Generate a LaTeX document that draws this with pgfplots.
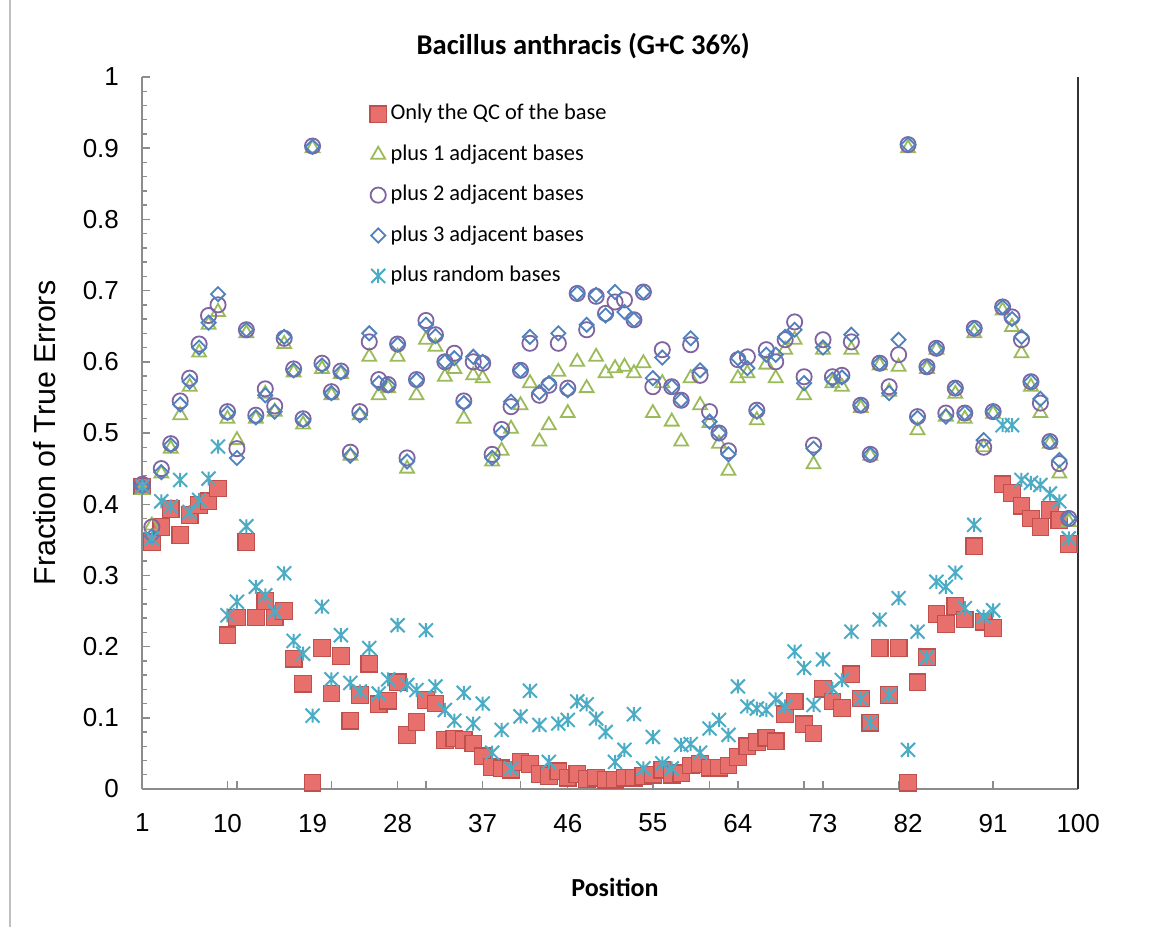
\documentclass[border=0pt]{standalone}
\usepackage{fontspec}
\setmainfont{Carlito}
\newfontfamily\arialf{Liberation Sans}
\usepackage{pgfplots}
\pgfplotsset{compat=1.18}
\usepackage{pgfplotstable}

\definecolor{redfill}{HTML}{E8706C}
\definecolor{redline}{HTML}{C0504D}
\definecolor{xlgreen}{HTML}{9BBB59}
\definecolor{xlpurple}{HTML}{8064A2}
\definecolor{xlblue}{HTML}{4F81BD}
\definecolor{xlcyan}{HTML}{4BACC6}
\definecolor{axgray}{HTML}{8C8C8C}

\pgfdeclareplotmark{xstar}{%
 \pgfpathmoveto{\pgfqpoint{0pt}{\pgfplotmarksize}}%
 \pgfpathlineto{\pgfqpoint{0pt}{-\pgfplotmarksize}}%
 \pgfpathmoveto{\pgfqpoint{\pgfplotmarksize}{\pgfplotmarksize}}%
 \pgfpathlineto{\pgfqpoint{-\pgfplotmarksize}{-\pgfplotmarksize}}%
 \pgfpathmoveto{\pgfqpoint{-\pgfplotmarksize}{\pgfplotmarksize}}%
 \pgfpathlineto{\pgfqpoint{\pgfplotmarksize}{-\pgfplotmarksize}}%
 \pgfusepathqstroke}

\pgfplotstableread{
x q p1 p2 p3 pr
1 0.425 0.420 0.428 0.425 0.425
2 0.347 0.370 0.368 0.355 0.352
3 0.368 0.443 0.450 0.445 0.404
4 0.393 0.478 0.485 0.483 0.397
5 0.357 0.525 0.545 0.540 0.434
6 0.385 0.565 0.577 0.572 0.389
7 0.399 0.613 0.625 0.620 0.406
8 0.404 0.652 0.665 0.655 0.436
9 0.422 0.670 0.680 0.695 0.481
10 0.216 0.520 0.530 0.528 0.244
11 0.241 0.490 0.478 0.465 0.263
12 0.347 0.640 0.645 0.645 0.369
13 0.241 0.520 0.525 0.522 0.284
14 0.264 0.555 0.562 0.553 0.272
15 0.241 0.530 0.538 0.530 0.249
16 0.250 0.625 0.633 0.635 0.303
17 0.183 0.585 0.590 0.588 0.208
18 0.148 0.512 0.520 0.518 0.190
19 0.009 0.900 0.903 0.902 0.103
20 0.198 0.590 0.598 0.595 0.256
21 0.134 0.553 0.558 0.556 0.154
22 0.187 0.583 0.587 0.585 0.216
23 0.096 0.468 0.473 0.468 0.149
24 0.132 0.525 0.530 0.525 0.137
25 0.176 0.607 0.628 0.640 0.198
26 0.119 0.553 0.575 0.570 0.134
27 0.124 0.563 0.568 0.567 0.154
28 0.150 0.607 0.625 0.624 0.230
29 0.076 0.450 0.465 0.460 0.146
30 0.094 0.553 0.575 0.574 0.139
31 0.125 0.631 0.658 0.652 0.223
32 0.120 0.621 0.638 0.636 0.144
33 0.069 0.579 0.600 0.600 0.111
34 0.071 0.590 0.612 0.605 0.096
35 0.069 0.520 0.545 0.542 0.135
36 0.064 0.581 0.600 0.607 0.092
37 0.046 0.577 0.598 0.600 0.120
38 0.031 0.460 0.470 0.465 0.051
39 0.029 0.475 0.505 0.500 0.083
40 0.027 0.506 0.537 0.544 0.029
41 0.038 0.539 0.588 0.588 0.102
42 0.035 0.570 0.626 0.635 0.138
43 0.021 0.488 0.553 0.557 0.090
44 0.018 0.511 0.567 0.570 0.038
45 0.025 0.586 0.626 0.640 0.092
46 0.016 0.528 0.563 0.560 0.097
47 0.021 0.600 0.696 0.696 0.123
48 0.014 0.563 0.645 0.652 0.119
49 0.016 0.607 0.692 0.694 0.099
50 0.013 0.584 0.668 0.665 0.080
51 0.013 0.591 0.684 0.698 0.038
52 0.016 0.593 0.687 0.670 0.055
53 0.016 0.584 0.659 0.659 0.105
54 0.018 0.598 0.698 0.698 0.029
55 0.020 0.528 0.565 0.577 0.073
56 0.027 0.570 0.617 0.606 0.036
57 0.020 0.516 0.565 0.565 0.029
58 0.022 0.488 0.546 0.546 0.062
59 0.033 0.577 0.624 0.633 0.063
60 0.035 0.539 0.581 0.588 0.051
61 0.030 0.514 0.530 0.516 0.085
62 0.030 0.485 0.500 0.500 0.097
63 0.033 0.447 0.475 0.470 0.076
64 0.045 0.577 0.603 0.605 0.144
65 0.060 0.584 0.607 0.591 0.116
66 0.066 0.518 0.532 0.530 0.113
67 0.072 0.596 0.617 0.610 0.111
68 0.067 0.577 0.600 0.610 0.126
69 0.105 0.617 0.631 0.635 0.116
70 0.123 0.631 0.656 0.645 0.193
71 0.091 0.553 0.579 0.570 0.170
72 0.078 0.456 0.483 0.478 0.118
73 0.141 0.617 0.631 0.620 0.182
74 0.123 0.570 0.579 0.575 0.141
75 0.114 0.565 0.581 0.578 0.153
76 0.161 0.617 0.628 0.638 0.221
77 0.127 0.535 0.539 0.539 0.127
78 0.093 0.468 0.470 0.470 0.093
79 0.198 0.595 0.598 0.598 0.238
80 0.132 0.558 0.565 0.556 0.132
81 0.198 0.593 0.610 0.631 0.268
82 0.009 0.900 0.905 0.905 0.055
83 0.150 0.504 0.523 0.521 0.221
84 0.185 0.590 0.593 0.593 0.185
85 0.246 0.617 0.619 0.619 0.291
86 0.232 0.523 0.528 0.523 0.284
87 0.257 0.555 0.563 0.563 0.304
88 0.238 0.520 0.528 0.528 0.254
89 0.341 0.640 0.647 0.647 0.371
90 0.235 0.480 0.480 0.490 0.242
91 0.226 0.527 0.530 0.530 0.251
92 0.428 0.672 0.677 0.677 0.511
93 0.416 0.649 0.663 0.660 0.511
94 0.398 0.612 0.631 0.635 0.434
95 0.380 0.565 0.572 0.572 0.430
96 0.368 0.528 0.542 0.548 0.427
97 0.392 0.485 0.488 0.488 0.415
98 0.378 0.443 0.457 0.462 0.404
99 0.344 0.375 0.380 0.380 0.352
}\datatable

\begin{document}
\begin{tikzpicture}
\path[use as bounding box] (-71.2pt,-69pt) rectangle (503.8pt,394.5pt);
\draw[gray!50, line width=0.8pt] (-66.2pt,-69pt) -- (-66.2pt,394.5pt);
\begin{axis}[
  at={(0,0)}, anchor=south west,
  scale only axis, width=467.9pt, height=356pt,
  xmin=1, xmax=100, ymin=0, ymax=1,
  clip=false,
  axis x line*=bottom, axis y line*=left,
  axis line style={draw=axgray, line width=1pt},
  xtick={1,10,19,28,37,46,55,64,73,82,91,100},
  extra x ticks={11,21,31,41,51,61,71,81,91},
  extra x tick labels={},
  ytick={0,0.1,0.2,0.3,0.4,0.5,0.6,0.7,0.8,0.9,1},
  minor y tick num=4,
  tick align=inside,
  major tick length=3.8pt, minor tick length=2.3pt,
  tick style={draw=axgray, line width=0.7pt},
  /pgf/number format/assume math mode=true,
  ticklabel style={font=\arialf\fontsize{13}{15}\selectfont},
  xticklabel style={yshift=-9pt},
  yticklabel style={xshift=-8.2pt, /pgf/number format/fixed},
  title={\bfseries Bacillus anthracis (G+C 36\%)},
  title style={at={(axis description cs:0.471,1)}, anchor=center, yshift=9.5pt, font=\fontsize{14.3}{16}\selectfont},
  xlabel={\bfseries Position},
  xlabel style={at={(axis description cs:0.505,0)}, anchor=center, yshift=-49pt, font=\fontsize{13}{15}\selectfont},
  ylabel={Fraction of True Errors},
  ylabel style={at={(axis description cs:-0.104,0.5)}, anchor=center, font=\arialf\fontsize{15.2}{17}\selectfont},
  legend cell align=left,
  legend image code/.code={\draw[mark repeat=2,mark phase=2,#1] plot coordinates {(0pt,0pt) (3pt,0pt) (6pt,0pt)};},
  legend style={draw=none, fill=none, at={(axis description cs:0.2363,0.9685)}, anchor=north west,
    font=\fontsize{11.2}{13}\selectfont, row sep=9.7pt,
    nodes={inner ysep=0pt, text height=8pt, text depth=2.5pt}},
]
\addplot[only marks, mark=square*, mark size=4.15pt, mark options={fill=redfill, draw=redline, line width=0.6pt}] table[x=x, y=q] {\datatable};
\addlegendentry{Only the QC of the base}
\addplot[only marks, mark=triangle, mark size=4pt, mark options={draw=xlgreen, line width=0.9pt}] table[x=x, y=p1] {\datatable};
\addlegendentry{plus 1 adjacent bases}
\addplot[only marks, mark=o, mark size=3.8pt, mark options={draw=xlpurple, line width=0.9pt}] table[x=x, y=p2] {\datatable};
\addlegendentry{plus 2 adjacent bases}
\addplot[only marks, mark=square, mark size=2.5pt, mark options={draw=xlblue, line width=0.9pt, rotate=45}] table[x=x, y=p3] {\datatable};
\addlegendentry{plus 3 adjacent bases}
\addplot[only marks, mark=xstar, mark size=3.5pt, mark options={draw=xlcyan, line width=1pt}] table[x=x, y=pr] {\datatable};
\addlegendentry{plus random bases}
\draw[black!80, line width=1pt] (rel axis cs:1,0) -- (rel axis cs:1,1);
\end{axis}
\end{tikzpicture}
\end{document}
